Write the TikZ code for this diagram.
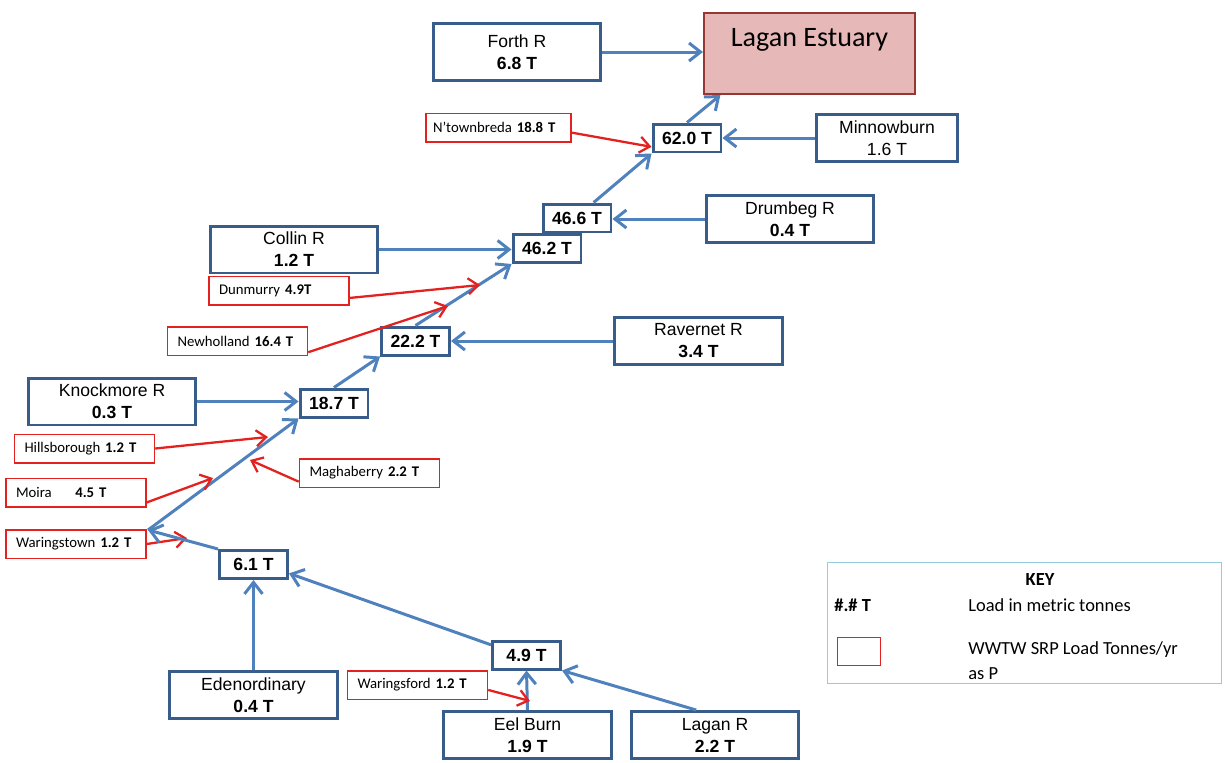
\documentclass[tikz,border=0pt]{standalone}
\usepackage{fontspec}
\setmainfont{Liberation Sans}
\newfontfamily\calibri{Carlito}
\usetikzlibrary{arrows.meta}

\definecolor{boxblue}{HTML}{385D8A}
\definecolor{flowblue}{HTML}{4F81BD}
\definecolor{wwtwred}{HTML}{E3211E}
\definecolor{estfill}{HTML}{E6B9B8}
\definecolor{estdraw}{HTML}{953735}
\definecolor{keyteal}{HTML}{93CDDD}

\begin{document}
\begin{tikzpicture}[
            x=0.02cm, y=-0.02cm,
            riverbox/.style = {draw=boxblue, line width=1.7pt, fill=white, align=center, inner sep=1pt,
                    font=\fontsize{10}{12.5}\selectfont, minimum width=3.36cm, minimum height=0.94cm},
            sumbox/.style = {draw=boxblue, line width=1.7pt, fill=white, inner sep=1pt,
                    font=\bfseries\fontsize{10}{12}\selectfont, minimum width=1.36cm, minimum height=0.56cm},
            wwtwbox/.style = {draw=wwtwred, line width=0.85pt, fill=white, align=left, inner xsep=0.2cm,
                    text width=2.4cm, font=\calibri\fontsize{8.4}{10}\selectfont, minimum height=0.57cm},
            estuary/.style = {draw=estdraw, line width=1.2pt, fill=estfill, inner sep=0pt,
                    font=\calibri\fontsize{16}{19}\selectfont, minimum width=4.22cm,
                    text height=0.67cm, text depth=0.95cm},
            keytext/.style = {inner sep=0pt, font=\calibri\fontsize{10.5}{14}\selectfont},
            flow/.style = {draw=flowblue, line width=1.7pt, -{Straight Barb[length=2.3mm, width=3.6mm]}},
            wwtwflow/.style = {draw=wwtwred, line width=1.3pt, -{Straight Barb[length=2mm, width=3.2mm]}}
        ]
        \useasboundingbox (0,0) rectangle (1225,762);

        \node (forth)  [riverbox, minimum height=1.14cm] at (517,52) {Forth R\\ \textbf{6.8 T}};
        \node (lagan)  [estuary] at (809.5,53.5) {Lagan Estuary};
        \node (ntown)  [wwtwbox, inner xsep=0.14cm, text width=2.62cm] at (498.5,127.5) {N’townbreda \textbf{18.8 T}};
        \node (s620)   [sumbox] at (687,138) {62.0 T};
        \node (minnow) [riverbox, minimum width=2.82cm] at (887,138) {Minnowburn\\ 1.6 T};
        \node (s466)   [sumbox] at (577,218) {46.6 T};
        \node (drum)   [riverbox] at (790,219) {Drumbeg R\\ \textbf{0.4 T}};
        \node (s462)   [sumbox] at (547,248.5) {46.2 T};
        \node (collin) [riverbox] at (294,249.5) {Collin R\\ \textbf{1.2 T}};
        \node (dun)    [wwtwbox] at (279,290.5) {Dunmurry \textbf{4.9T}};
        \node (newh)   [wwtwbox] at (237.5,341) {Newholland \textbf{16.4 T}};
        \node (s222)   [sumbox] at (415.5,341) {22.2 T};
        \node (rav)    [riverbox] at (698.5,341) {Ravernet R\\ \textbf{3.4 T}};
        \node (knock)  [riverbox] at (112,401.5) {Knockmore R\\ \textbf{0.3 T}};
        \node (s187)   [sumbox] at (334,403) {18.7 T};
        \node (hill)   [wwtwbox] at (84.5,448.5) {Hillsborough \textbf{1.2 T}};
        \node (magh)   [wwtwbox] at (369.5,473) {Maghaberry \textbf{2.2 T}};
        \node (moira)  [wwtwbox] at (76,492.5) {Moira\hspace{1.6em}\textbf{4.5 T}};
        \node (wstown) [wwtwbox] at (76,544) {Waringstown \textbf{1.2 T}};
        \node (s61)    [sumbox] at (253.5,564.5) {6.1 T};
        \node (eden)   [riverbox] at (253.5,695) {Edenordinary\\ \textbf{0.4 T}};
        \node (s49)    [sumbox] at (526.5,655) {4.9 T};
        \node (wford)  [wwtwbox] at (417.5,685) {Waringsford \textbf{1.2 T}};
        \node (eel)    [riverbox] at (527.5,735) {Eel Burn\\ \textbf{1.9 T}};
        \node (laganr) [riverbox] at (715,735) {Lagan R\\ \textbf{2.2 T}};

        % points on the main channel
        \coordinate (bend)       at (148,530);
        \coordinate (dunTip)     at (480,285);
        \coordinate (newhTip)    at (448,306);
        \coordinate (hillTip)    at (268,437);
        \coordinate (maghTip)    at (250,460);
        \coordinate (moiraTip)   at (213,478);
        \coordinate (wstownTip)  at (187,538);
        \coordinate (wfordTip)   at (530,701);

        \draw [flow]     (forth.east)   -- (forth.east -| lagan.west);
        \draw [flow]     (s620.north)   -- (lagan.205);
        \draw [flow]     (minnow.west)  -- (minnow.west -| s620.east);
        \draw [wwtwflow] (ntown.-4)     -- (s620.194);
        \draw [flow]     (s466.43)      -- (s620.south west);
        \draw [flow]     (drum.west)    -- (drum.west -| s466.east);
        \draw [flow]     (collin.east)  -- (collin.east -| s462.west);
        \draw [flow]     (s222.north)   -- (s462.south west);
        \draw [wwtwflow] (dun.-6)       -- (dunTip);
        \draw [wwtwflow] (newh.-9)      -- (newhTip);
        \draw [flow]     (rav.west)     -- (s222.east);
        \draw [flow]     (s187.north)   -- (s222.south west);
        \draw [flow]     (knock.east)   -- (knock.east -| s187.west);
        \draw [flow]     (bend)         -- (s187.south west);
        \draw [wwtwflow] (hill.east)    -- (hillTip);
        \draw [wwtwflow] (magh.187)     -- (maghTip);
        \draw [wwtwflow] (moira.-8)     -- (moiraTip);
        \draw [wwtwflow] (wstown.east)  -- (wstownTip);
        \draw [flow]     (s61.north west) -- (bend);
        \draw [flow]     (s49.164)      -- (s61.-14);
        \draw [flow]     (eden.north)   -- (s61.south);
        \draw [flow]     (eel.north)    -- (s49.south);
        \draw [flow]     (laganr.127)   -- (s49.south east);
        \draw [wwtwflow] (wford.-4)     -- (wfordTip);

        % key
        \node (keybox)  [draw=keyteal, line width=0.8pt, minimum width=7.87cm, minimum height=2.41cm] at (1024.5,623) {};
        \node (keyhead) [keytext, font=\calibri\bfseries\fontsize{10.5}{12}\selectfont] at (1040,580) {KEY};
        \node (keyload) [keytext, anchor=west, font=\calibri\bfseries\fontsize{10.5}{12}\selectfont] at (834,605) {\#.\# T};
        \node (keyloaddesc) [keytext, anchor=west] at (968,605) {Load in metric tonnes};
        \node (keysample)   [draw=wwtwred, line width=0.85pt, minimum width=0.86cm, minimum height=0.56cm] at (859,651.5) {};
        \node (keysampledesc) [keytext, anchor=west, align=left] at (968,660.5) {WWTW SRP Load Tonnes/yr\\ as P};
    \end{tikzpicture}
\end{document}
